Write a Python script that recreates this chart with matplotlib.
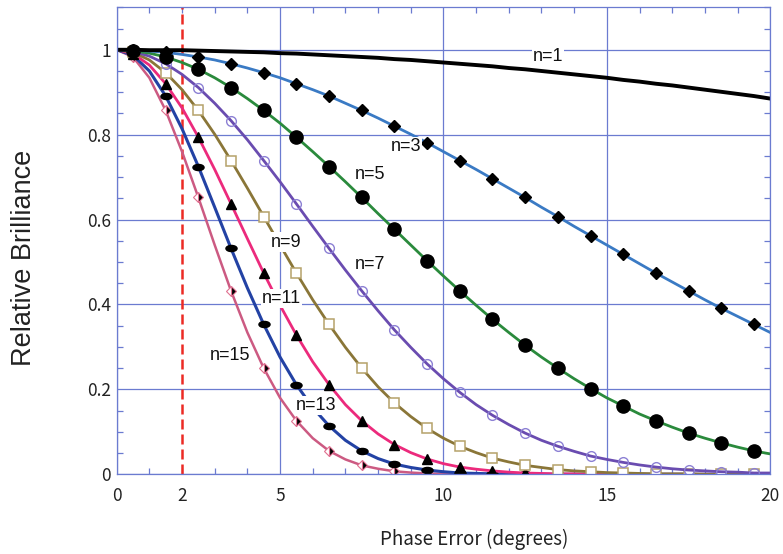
import numpy as np
import matplotlib
matplotlib.use("Agg")
import matplotlib.pyplot as plt
from matplotlib.path import Path
from matplotlib.transforms import Affine2D
from matplotlib.ticker import MultipleLocator

plt.rcParams['font.family'] = ['Noto Sans CJK JP', 'DejaVu Sans']

# phase error in degrees, sampled every 0.5 deg (markers sit on 0.5, 1.5, ... 19.5)
phase = np.arange(0, 20.5, 0.5)

n1 = [1.000, 1.000, 0.999, 0.999, 0.999, 0.998, 0.997, 0.996, 0.995, 0.994,
      0.992, 0.991, 0.989, 0.987, 0.985, 0.983, 0.981, 0.978, 0.976, 0.973,
      0.970, 0.967, 0.964, 0.961, 0.957, 0.954, 0.950, 0.946, 0.942, 0.938,
      0.934, 0.929, 0.925, 0.920, 0.916, 0.911, 0.906, 0.901, 0.896, 0.891, 0.885]
n3 = [1.000, 0.999, 0.997, 0.994, 0.989, 0.983, 0.976, 0.967, 0.957, 0.946,
      0.934, 0.920, 0.906, 0.891, 0.874, 0.857, 0.839, 0.820, 0.801, 0.781,
      0.760, 0.739, 0.718, 0.696, 0.674, 0.652, 0.629, 0.607, 0.584, 0.562,
      0.540, 0.518, 0.496, 0.474, 0.453, 0.432, 0.411, 0.391, 0.372, 0.353, 0.334]
n5 = [1.000, 0.998, 0.992, 0.983, 0.970, 0.954, 0.934, 0.911, 0.885, 0.857,
      0.827, 0.794, 0.760, 0.725, 0.689, 0.652, 0.614, 0.577, 0.540, 0.503,
      0.467, 0.432, 0.398, 0.365, 0.334, 0.304, 0.276, 0.250, 0.225, 0.202,
      0.180, 0.161, 0.142, 0.126, 0.111, 0.097, 0.085, 0.074, 0.064, 0.055, 0.048]
n7 = [1.000, 0.996, 0.985, 0.967, 0.942, 0.911, 0.874, 0.833, 0.788, 0.739,
      0.689, 0.637, 0.584, 0.532, 0.481, 0.432, 0.385, 0.340, 0.299, 0.260,
      0.225, 0.193, 0.164, 0.139, 0.117, 0.097, 0.080, 0.066, 0.054, 0.043,
      0.035, 0.028, 0.022, 0.017, 0.013, 0.010, 0.008, 0.006, 0.005, 0.003, 0.003]
n9 = [1.000, 0.994, 0.976, 0.946, 0.906, 0.857, 0.801, 0.739, 0.674, 0.607,
      0.540, 0.474, 0.411, 0.353, 0.299, 0.250, 0.206, 0.168, 0.136, 0.108,
      0.085, 0.066, 0.051, 0.038, 0.029, 0.021, 0.016, 0.011, 0.008, 0.006,
      0.004, 0.003, 0.002, 0.001, 0.001, 0.001, 0.000, 0.000, 0.000, 0.000, 0.000]
n11 = [1.000, 0.991, 0.964, 0.920, 0.863, 0.794, 0.718, 0.637, 0.555, 0.474,
       0.398, 0.328, 0.265, 0.211, 0.164, 0.126, 0.095, 0.070, 0.051, 0.036,
       0.025, 0.017, 0.012, 0.008, 0.005, 0.003, 0.002, 0.001, 0.001, 0.000,
       0.000, 0.000, 0.000, 0.000, 0.000, 0.000, 0.000, 0.000, 0.000, 0.000, 0.000]
n13 = [1.000, 0.987, 0.950, 0.891, 0.814, 0.725, 0.629, 0.532, 0.439, 0.353,
       0.276, 0.211, 0.157, 0.114, 0.080, 0.055, 0.037, 0.024, 0.016, 0.010,
       0.006, 0.003, 0.002, 0.001, 0.001, 0.000, 0.000, 0.000, 0.000, 0.000,
       0.000, 0.000, 0.000, 0.000, 0.000, 0.000, 0.000, 0.000, 0.000, 0.000, 0.000]
n15 = [1.000, 0.983, 0.934, 0.857, 0.760, 0.652, 0.540, 0.432, 0.334, 0.250,
       0.180, 0.126, 0.085, 0.055, 0.035, 0.021, 0.013, 0.007, 0.004, 0.002,
       0.001, 0.001, 0.000, 0.000, 0.000, 0.000, 0.000, 0.000, 0.000, 0.000,
       0.000, 0.000, 0.000, 0.000, 0.000, 0.000, 0.000, 0.000, 0.000, 0.000, 0.000]

labels = ["n=1", "n=3", "n=5", "n=7", "n=9", "n=11", "n=13", "n=15"]
label_pos = [(13.2, 0.983), (8.85, 0.772), (7.75, 0.705), (7.75, 0.493),
             (5.18, 0.547), (5.05, 0.415), (6.1, 0.163), (3.46, 0.28)]

grid_col = "#6b7bd0"
flat_oval = Path.unit_circle().transformed(Affine2D().scale(1.0, 0.55))

fig = plt.figure(figsize=(7.83, 5.54), dpi=100)
ax = fig.add_axes([0.149, 0.1439, 0.8347, 0.8429])

ax.axvline(2, color="#ec2a24", lw=1.8, dashes=(4, 2), zorder=1.5)

mk = slice(1, None, 2)
ax.plot(phase, n15, color="#cc5a82", lw=1.8, marker="D", ms=5.5, markevery=mk,
        fillstyle="right", mfc="black", mfcalt="white", mec="#e07090", mew=0.8)
ax.plot(phase, n13, color="#2342a4", lw=2.2, marker=flat_oval, ms=8, markevery=mk,
        mfc="black", mec="black")
ax.plot(phase, n11, color="#ec2a7c", lw=2.0, marker="^", ms=7.5, markevery=mk,
        mfc="black", mec="black")
ax.plot(phase, n9, color="#8a7638", lw=2.0, marker="s", ms=7.5, markevery=mk,
        mfc="white", mec="#b5a26a", mew=1.1)
ax.plot(phase, n7, color="#6a4cb0", lw=2.0, marker="o", ms=7, markevery=mk,
        mfc="none", mec="#8c80d4", mew=1.0)
ax.plot(phase, n5, color="#2a8a3c", lw=2.0, marker="o", ms=9.5, markevery=mk,
        mfc="black", mec="black")
ax.plot(phase, n3, color="#3a7ac4", lw=2.0, marker="D", ms=6.5, markevery=mk,
        mfc="black", mec="black")
ax.plot(phase, n1, color="black", lw=2.8)

for lab, (tx, ty) in zip(labels, label_pos):
    ax.text(tx, ty, lab, fontsize=13, ha="center", va="center", zorder=5,
            family=["Liberation Sans", "DejaVu Sans"], color="#111111",
            bbox=dict(facecolor="white", edgecolor="none", pad=0.8))

ax.set_xlim(0, 20)
ax.set_ylim(0, 1.1)
ax.set_xticks([0, 5, 10, 15, 20])
ax.set_xticks(range(21), labels=["2" if i == 2 else "" for i in range(21)], minor=True)
ax.set_yticks([0, 0.2, 0.4, 0.6, 0.8, 1.0], labels=["0", "0.2", "0.4", "0.6", "0.8", "1"])
ax.yaxis.set_minor_locator(MultipleLocator(0.05))

ax.grid(True, which="major", color=grid_col, lw=0.9)
ax.set_axisbelow(True)
ax.tick_params(which="both", direction="in", top=True, right=True, color=grid_col,
               labelsize=12.5, labelcolor="#222222", width=0.9)
ax.tick_params(which="major", length=0)
ax.tick_params(which="minor", length=4)
ax.tick_params(axis="x", which="both", pad=9)
ax.tick_params(axis="y", which="both", pad=4)
for s in ax.spines.values():
    s.set_color(grid_col)
    s.set_linewidth(0.9)

fig.text(0.605, 0.026, "Phase Error (degrees)", fontsize=13.5, ha="center", va="center",
         color="#222222")
fig.text(0.031, 0.534, "Relative Brilliance", fontsize=19.5, ha="center", va="center",
         rotation=90, color="#222222", family=["Liberation Sans", "DejaVu Sans"])

fig.savefig("out.png", dpi=100)
